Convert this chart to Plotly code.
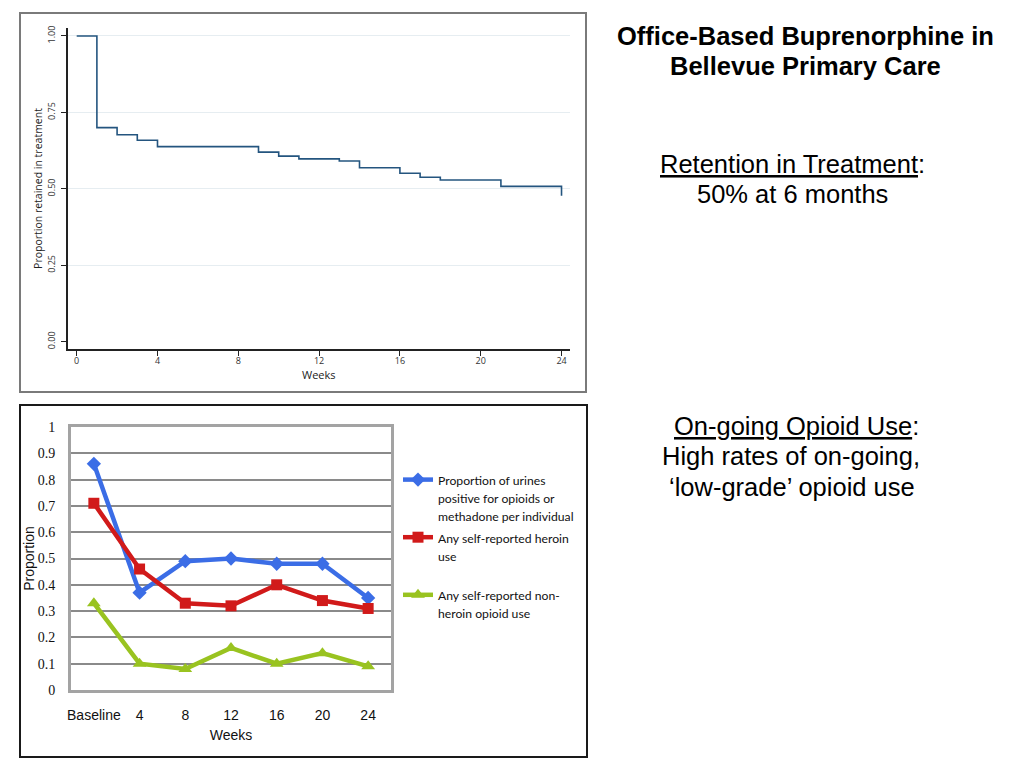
import plotly.graph_objects as go

W, H = 1024, 768

# ---------------- data ----------------
# Kaplan-Meier retention (top chart)
km_weeks = [0, 1, 2, 3, 4, 9, 10, 11, 13, 14, 16, 17, 18, 21, 24]
km_retained = [1.00, 0.700, 0.677, 0.659, 0.638, 0.620, 0.607, 0.598, 0.591,
               0.569, 0.551, 0.538, 0.529, 0.508, 0.477]
km_xticks = [0, 4, 8, 12, 16, 20, 24]
km_yticks = [0.00, 0.25, 0.50, 0.75, 1.00]
km_ytick_text = ["0.00", "0.25", "0.50", "0.75", "1.00"]

# On-going opioid use (bottom chart)
use_categories = ["Baseline", "4", "8", "12", "16", "20", "24"]
urine_positive = [0.86, 0.37, 0.49, 0.50, 0.48, 0.48, 0.35]
heroin_self_report = [0.71, 0.46, 0.33, 0.32, 0.40, 0.34, 0.31]
nonheroin_self_report = [0.33, 0.10, 0.08, 0.16, 0.10, 0.14, 0.09]
use_yticks = [0, 0.1, 0.2, 0.3, 0.4, 0.5, 0.6, 0.7, 0.8, 0.9, 1]
use_ytick_text = ["0", "0.1", "0.2", "0.3", "0.4", "0.5", "0.6", "0.7", "0.8", "0.9", "1"]

legend_names = [
    "Proportion of urines<br>positive for opioids or<br>methadone per individual",
    "Any self-reported heroin<br>use<br>&nbsp;",
    "Any self-reported non-<br>heroin opioid use",
]

side_lines = [
    ("<b>Office-Based Buprenorphine in</b>", 805, 36),
    ("<b>Bellevue Primary Care</b>", 805, 66),
    ("<u>Retention in Treatment</u>:", 792, 164),
    ("50% at 6 months", 792, 194),
    ("<u>On-going Opioid Use</u>:", 796, 426),
    ("High rates of on-going,", 791, 456),
    ("\u2018low-grade\u2019 opioid use", 792, 487),
]


def px_x(p):
    return p / W


def px_y(p):
    return 1 - p / H


def small(t):
    return "<br>".join('<span style="font-size:12.2px">%s</span>' % s for s in t.split("<br>"))


fig = go.Figure()

# top chart trace
fig.add_trace(go.Scatter(
    x=km_weeks, y=km_retained, mode="lines", line=dict(shape="hv", color="#24557f", width=1.6),
    xaxis="x", yaxis="y", showlegend=False, hoverinfo="skip"))

# bottom chart traces
series = [
    (urine_positive, "#3b6de6", "diamond", 11),
    (heroin_self_report, "#d11a1a", "square", 11),
    (nonheroin_self_report, "#99c320", "triangle-up", 12),
]
for (vals, col, sym, sz), nm in zip(series, legend_names):
    fig.add_trace(go.Scatter(
        x=use_categories, y=vals, mode="lines+markers", name=small(nm),
        line=dict(color=col, width=4.5), marker=dict(symbol=sym, size=sz, color=col),
        xaxis="x2", yaxis="y2"))

stata_font = "Open Sans, DejaVu Sans, sans-serif"
arial = "Liberation Sans, Arial, sans-serif"

fig.update_layout(
    width=W, height=H, margin=dict(l=0, r=0, t=0, b=0, autoexpand=False),
    paper_bgcolor="white", plot_bgcolor="white",
    showlegend=True,
    xaxis=dict(
        domain=[px_x(68), px_x(570)], range=[-0.43, 24.42], anchor="y", automargin=False,
        tickvals=km_xticks, ticks="outside", ticklen=5, tickcolor="#222", tickwidth=1.3,
        showline=True, linecolor="#222", linewidth=1.5, showgrid=False, zeroline=False,
        ticklabelstandoff=-3,
        tickfont=dict(family=stata_font, size=9, color="#333"),
    ),
    yaxis=dict(
        domain=[px_y(349), px_y(28)], range=[-0.024, 1.026], anchor="x", automargin=False,
        tickvals=km_yticks, ticktext=km_ytick_text, tickangle=-90,
        ticks="outside", ticklen=5, tickcolor="#222", tickwidth=1.3,
        showline=True, linecolor="#222", linewidth=1.5,
        showgrid=True, gridcolor="#e6edf1", gridwidth=1,
        zeroline=True, zerolinecolor="white", zerolinewidth=2,
        ticklabelstandoff=3,
        tickfont=dict(family=stata_font, size=9, color="#333"),
        title=dict(text="Proportion retained in treatment", font=dict(family=stata_font, size=10.5, color="#222"), standoff=0),
    ),
    xaxis2=dict(
        domain=[px_x(71), px_x(391)], range=[-0.5, 6.5], anchor="y2", type="category", automargin=False,
        showline=True, mirror=True, linecolor="#a3a3a3", linewidth=3,
        showgrid=False, zeroline=False, ticks="", ticklabelstandoff=10,
        tickfont=dict(family=arial, size=14, color="#111"),
        title=dict(text="Weeks", font=dict(family=arial, size=14, color="#111"), standoff=9),
    ),
    yaxis2=dict(
        domain=[px_y(690), px_y(427)], range=[0, 1], anchor="x2", automargin=False,
        tickvals=use_yticks, ticktext=use_ytick_text,
        showline=True, mirror=True, linecolor="#a3a3a3", linewidth=3,
        showgrid=True, gridcolor="#8a8a8a", gridwidth=2, zeroline=False,
        ticks="", ticklabelstandoff=10,
        tickfont=dict(family="Liberation Serif, Times New Roman, serif", size=14, color="#111"),
        title=dict(text="Proportion", font=dict(family=arial, size=14, color="#111"), standoff=0),
    ),
    legend=dict(
        x=px_x(398), y=px_y(464), xanchor="left", yanchor="top", valign="top",
        font=dict(family="Lato, Liberation Sans, sans-serif", size=14, color="#111"),
        bgcolor="rgba(0,0,0,0)", tracegroupgap=0, itemwidth=30,
    ),
    shapes=[
        dict(type="rect", xref="paper", yref="paper", x0=px_x(20), x1=px_x(586), y0=px_y(392), y1=px_y(13),
             line=dict(color="#7a7a7a", width=2)),
        dict(type="rect", xref="paper", yref="paper", x0=px_x(20), x1=px_x(587), y0=px_y(757), y1=px_y(405),
             line=dict(color="#1a1a1a", width=2)),
    ],
)

# x-axis title of the top (Stata) chart, placed tight under the tick labels
fig.add_annotation(text="Weeks", x=0.5, xref="x domain", y=px_y(374), yref="paper",
                   xanchor="center", yanchor="middle", showarrow=False,
                   font=dict(family=stata_font, size=11, color="#222"))

for txt, cx, cy in side_lines:
    fig.add_annotation(text=txt, x=px_x(cx), y=px_y(cy), xref="paper", yref="paper",
                       xanchor="center", yanchor="middle", align="center", showarrow=False,
                       font=dict(family=arial, size=25.5, color="#000"))

fig.write_html("out.html", config={"displayModeBar": False},
               post_script="document.body.style.margin='0';")
